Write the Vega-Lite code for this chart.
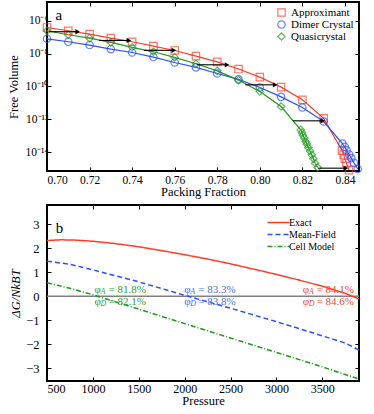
{
  "$schema": "https://vega.github.io/schema/vega-lite/v6.json",
  "padding": {"left": 6, "top": 0, "right": 0, "bottom": 0},
  "spacing": 4,
  "resolve": {"scale": {"color": "independent", "shape": "independent", "strokeDash": "independent"}, "legend": {"color": "independent", "shape": "independent", "strokeDash": "independent"}},
  "config": {
    "font": "Liberation Serif",
    "view": {"stroke": "black", "strokeWidth": 2},
    "axis": {"grid": false, "domain": false, "tickColor": "black", "tickSize": -4, "labelColor": "black", "titleColor": "black", "labelFont": "Liberation Serif", "titleFont": "Liberation Serif", "titleFontWeight": "normal", "labelFontSize": 11.5, "titleFontSize": 12.5},
    "legend": {"labelFont": "Liberation Serif", "labelColor": "black"}
  },
  "datasets": {
    "free": [
      {"series": "Approximant", "pf": 0.70, "fv": 3.89e-7},
      {"series": "Approximant", "pf": 0.71, "fv": 2.45e-7},
      {"series": "Approximant", "pf": 0.72, "fv": 1.55e-7},
      {"series": "Approximant", "pf": 0.73, "fv": 8.7e-8},
      {"series": "Approximant", "pf": 0.74, "fv": 5.25e-8},
      {"series": "Approximant", "pf": 0.75, "fv": 2.88e-8},
      {"series": "Approximant", "pf": 0.76, "fv": 1.55e-8},
      {"series": "Approximant", "pf": 0.77, "fv": 7.08e-9},
      {"series": "Approximant", "pf": 0.78, "fv": 3.16e-9},
      {"series": "Approximant", "pf": 0.79, "fv": 1.15e-9},
      {"series": "Approximant", "pf": 0.80, "fv": 3.72e-10},
      {"series": "Approximant", "pf": 0.81, "fv": 9.12e-11},
      {"series": "Approximant", "pf": 0.82, "fv": 1.55e-11},
      {"series": "Approximant", "pf": 0.83, "fv": 1.15e-12},
      {"series": "Approximant", "pf": 0.8386, "fv": 1.26e-14},
      {"series": "Approximant", "pf": 0.8394, "fv": 7.24e-15},
      {"series": "Approximant", "pf": 0.8399, "fv": 4.07e-15},
      {"series": "Approximant", "pf": 0.8407, "fv": 2.14e-15},
      {"series": "Approximant", "pf": 0.8419, "fv": 8.1e-16},
      {"series": "Dimer Crystal", "pf": 0.70, "fv": 7.94e-8},
      {"series": "Dimer Crystal", "pf": 0.71, "fv": 5.25e-8},
      {"series": "Dimer Crystal", "pf": 0.72, "fv": 3.31e-8},
      {"series": "Dimer Crystal", "pf": 0.73, "fv": 1.86e-8},
      {"series": "Dimer Crystal", "pf": 0.74, "fv": 1.17e-8},
      {"series": "Dimer Crystal", "pf": 0.75, "fv": 6.17e-9},
      {"series": "Dimer Crystal", "pf": 0.76, "fv": 2.88e-9},
      {"series": "Dimer Crystal", "pf": 0.77, "fv": 1.45e-9},
      {"series": "Dimer Crystal", "pf": 0.78, "fv": 6.17e-10},
      {"series": "Dimer Crystal", "pf": 0.79, "fv": 2.69e-10},
      {"series": "Dimer Crystal", "pf": 0.80, "fv": 8.71e-11},
      {"series": "Dimer Crystal", "pf": 0.81, "fv": 2.34e-11},
      {"series": "Dimer Crystal", "pf": 0.82, "fv": 5.25e-12},
      {"series": "Dimer Crystal", "pf": 0.83, "fv": 7.4e-13},
      {"series": "Dimer Crystal", "pf": 0.8388, "fv": 3.39e-14},
      {"series": "Dimer Crystal", "pf": 0.8399, "fv": 2.14e-14},
      {"series": "Dimer Crystal", "pf": 0.8408, "fv": 1.29e-14},
      {"series": "Dimer Crystal", "pf": 0.8420, "fv": 7.24e-15},
      {"series": "Dimer Crystal", "pf": 0.8430, "fv": 4.37e-15},
      {"series": "Dimer Crystal", "pf": 0.8442, "fv": 2.29e-15},
      {"series": "Dimer Crystal", "pf": 0.8460, "fv": 9.55e-16},
      {"series": "Quasicrystal", "pf": 0.70, "fv": 2.45e-7},
      {"series": "Quasicrystal", "pf": 0.71, "fv": 1.41e-7},
      {"series": "Quasicrystal", "pf": 0.72, "fv": 8.71e-8},
      {"series": "Quasicrystal", "pf": 0.73, "fv": 4.79e-8},
      {"series": "Quasicrystal", "pf": 0.74, "fv": 2.40e-8},
      {"series": "Quasicrystal", "pf": 0.75, "fv": 1.29e-8},
      {"series": "Quasicrystal", "pf": 0.76, "fv": 5.89e-9},
      {"series": "Quasicrystal", "pf": 0.77, "fv": 2.40e-9},
      {"series": "Quasicrystal", "pf": 0.78, "fv": 8.91e-10},
      {"series": "Quasicrystal", "pf": 0.79, "fv": 2.45e-10},
      {"series": "Quasicrystal", "pf": 0.80, "fv": 5.01e-11},
      {"series": "Quasicrystal", "pf": 0.81, "fv": 6.03e-12},
      {"series": "Quasicrystal", "pf": 0.8192, "fv": 2.29e-13},
      {"series": "Quasicrystal", "pf": 0.8198, "fv": 1.58e-13},
      {"series": "Quasicrystal", "pf": 0.8203, "fv": 1.05e-13},
      {"series": "Quasicrystal", "pf": 0.8209, "fv": 7.24e-14},
      {"series": "Quasicrystal", "pf": 0.8216, "fv": 4.47e-14},
      {"series": "Quasicrystal", "pf": 0.8221, "fv": 3.09e-14},
      {"series": "Quasicrystal", "pf": 0.8228, "fv": 1.95e-14},
      {"series": "Quasicrystal", "pf": 0.8236, "fv": 1.20e-14},
      {"series": "Quasicrystal", "pf": 0.8244, "fv": 6.92e-15},
      {"series": "Quasicrystal", "pf": 0.8252, "fv": 3.98e-15},
      {"series": "Quasicrystal", "pf": 0.8260, "fv": 2.14e-15},
      {"series": "Quasicrystal", "pf": 0.8272, "fv": 1.17e-15}
    ],
    "arrows": [
      {"x1": 0.7011, "x2": 0.7144, "fv": 2.14e-7},
      {"x1": 0.7245, "x2": 0.7385, "fv": 6.31e-8},
      {"x1": 0.7456, "x2": 0.7596, "fv": 1.58e-8},
      {"x1": 0.7706, "x2": 0.7846, "fv": 2.09e-9},
      {"x1": 0.7932, "x2": 0.8072, "fv": 1.26e-10},
      {"x1": 0.8155, "x2": 0.8296, "fv": 8.13e-13},
      {"x1": 0.8273, "x2": 0.8404, "fv": 1.07e-15}
    ],
    "dg": [
      {"series": "Exact", "p": 500, "dg": 2.32},
      {"series": "Exact", "p": 650, "dg": 2.35},
      {"series": "Exact", "p": 800, "dg": 2.34},
      {"series": "Exact", "p": 1000, "dg": 2.29},
      {"series": "Exact", "p": 1250, "dg": 2.19},
      {"series": "Exact", "p": 1500, "dg": 2.06},
      {"series": "Exact", "p": 1750, "dg": 1.90},
      {"series": "Exact", "p": 2000, "dg": 1.73},
      {"series": "Exact", "p": 2250, "dg": 1.55},
      {"series": "Exact", "p": 2500, "dg": 1.35},
      {"series": "Exact", "p": 2750, "dg": 1.13},
      {"series": "Exact", "p": 3000, "dg": 0.91},
      {"series": "Exact", "p": 3250, "dg": 0.67},
      {"series": "Exact", "p": 3500, "dg": 0.42},
      {"series": "Exact", "p": 3750, "dg": 0.12},
      {"series": "Exact", "p": 3900, "dg": -0.11},
      {"series": "Mean-Field", "p": 500, "dg": 1.46},
      {"series": "Mean-Field", "p": 750, "dg": 1.33},
      {"series": "Mean-Field", "p": 1000, "dg": 1.10},
      {"series": "Mean-Field", "p": 1250, "dg": 0.85},
      {"series": "Mean-Field", "p": 1500, "dg": 0.60},
      {"series": "Mean-Field", "p": 1750, "dg": 0.32},
      {"series": "Mean-Field", "p": 2000, "dg": 0.04},
      {"series": "Mean-Field", "p": 2250, "dg": -0.23},
      {"series": "Mean-Field", "p": 2500, "dg": -0.50},
      {"series": "Mean-Field", "p": 2750, "dg": -0.78},
      {"series": "Mean-Field", "p": 3000, "dg": -1.06},
      {"series": "Mean-Field", "p": 3250, "dg": -1.35},
      {"series": "Mean-Field", "p": 3500, "dg": -1.65},
      {"series": "Mean-Field", "p": 3750, "dg": -1.95},
      {"series": "Mean-Field", "p": 3900, "dg": -2.24},
      {"series": "Cell Model", "p": 500, "dg": 0.56},
      {"series": "Cell Model", "p": 750, "dg": 0.33},
      {"series": "Cell Model", "p": 1000, "dg": 0.06},
      {"series": "Cell Model", "p": 1250, "dg": -0.24},
      {"series": "Cell Model", "p": 1500, "dg": -0.54},
      {"series": "Cell Model", "p": 1750, "dg": -0.84},
      {"series": "Cell Model", "p": 2000, "dg": -1.14},
      {"series": "Cell Model", "p": 2250, "dg": -1.44},
      {"series": "Cell Model", "p": 2500, "dg": -1.74},
      {"series": "Cell Model", "p": 2750, "dg": -2.04},
      {"series": "Cell Model", "p": 3000, "dg": -2.34},
      {"series": "Cell Model", "p": 3250, "dg": -2.64},
      {"series": "Cell Model", "p": 3500, "dg": -2.94},
      {"series": "Cell Model", "p": 3750, "dg": -3.26},
      {"series": "Cell Model", "p": 3900, "dg": -3.45}
    ],
    "ann": [
      {"series": "Cell Model", "p": 1017, "dg": 0.25, "sub": "A", "val": "= 81.8%"},
      {"series": "Cell Model", "p": 1017, "dg": -0.25, "sub": "D", "val": "= 82.1%"},
      {"series": "Mean-Field", "p": 1997, "dg": 0.25, "sub": "A", "val": "= 83.3%"},
      {"series": "Mean-Field", "p": 1997, "dg": -0.25, "sub": "D", "val": "= 83.8%"},
      {"series": "Exact", "p": 3286, "dg": 0.25, "sub": "A", "val": "= 84.1%"},
      {"series": "Exact", "p": 3286, "dg": -0.25, "sub": "D", "val": "= 84.6%"}
    ]
  },
  "vconcat": [
    {
      "width": 312,
      "height": 169,
      "resolve": {"axis": {"x": "independent", "y": "independent"}},
      "layer": [
        {
          "data": {"name": "free"},
          "mark": {"type": "line", "strokeWidth": 1.2, "clip": false},
          "encoding": {
            "x": {"field": "pf", "type": "quantitative", "scale": {"domain": [0.70, 0.8466], "nice": false, "zero": false},
              "axis": {"values": [0.70, 0.72, 0.74, 0.76, 0.78, 0.80, 0.82, 0.84], "format": ".2f", "title": "Packing Fraction", "labelPadding": 7, "titlePadding": 0}},
            "y": {"field": "fv", "type": "quantitative", "scale": {"type": "log", "domain": [7.2e-16, 1.38e-5], "nice": false},
              "axis": {"values": [1e-14, 1e-12, 1e-10, 1e-8, 1e-6], "title": "Free Volume", "labelPadding": 3, "titlePadding": 5,
                "labelExpr": "'10' + (datum.value < 1e-13 ? '⁻¹⁴' : datum.value < 1e-11 ? '⁻¹²' : datum.value < 1e-9 ? '⁻¹⁰' : datum.value < 1e-7 ? '⁻⁸' : '⁻⁶')"}},
            "color": {"field": "series", "type": "nominal", "scale": {"domain": ["Approximant", "Dimer Crystal", "Quasicrystal"], "range": ["#ff3b2a", "#2b50f5", "#1f9a1f"]},
              "legend": {"orient": "top-right", "offset": 5, "title": null, "labelFontSize": 11, "padding": 0, "rowPadding": -2, "symbolStrokeWidth": 1.2, "symbolSize": 55}}
          }
        },
        {
          "data": {"name": "free"},
          "mark": {"type": "point", "filled": false, "strokeWidth": 1.2, "size": 55, "clip": false},
          "encoding": {
            "x": {"field": "pf", "type": "quantitative", "axis": null},
            "y": {"field": "fv", "type": "quantitative", "axis": null},
            "color": {"field": "series", "type": "nominal",
              "legend": {"orient": "top-right", "offset": 5, "title": null, "labelFontSize": 11, "padding": 0, "rowPadding": -2, "symbolStrokeWidth": 1.2, "symbolSize": 55}},
            "shape": {"field": "series", "type": "nominal", "scale": {"domain": ["Approximant", "Dimer Crystal", "Quasicrystal"], "range": ["square", "circle", "diamond"]},
              "legend": {"orient": "top-right", "offset": 5, "title": null, "labelFontSize": 11, "padding": 0, "rowPadding": -2, "symbolStrokeWidth": 1.2, "symbolSize": 55}}
          }
        },
        {
          "data": {"name": "arrows"},
          "mark": {"type": "rule", "color": "black", "strokeWidth": 1.1},
          "encoding": {
            "x": {"field": "x1", "type": "quantitative", "axis": {"orient": "top", "values": [0.70, 0.72, 0.74, 0.76, 0.78, 0.80, 0.82, 0.84], "labels": false, "title": null}},
            "x2": {"field": "x2"},
            "y": {"field": "fv", "type": "quantitative", "axis": {"orient": "right", "values": [1e-14, 1e-12, 1e-10, 1e-8, 1e-6], "labels": false, "title": null}}
          }
        },
        {
          "data": {"name": "arrows"},
          "mark": {"type": "point", "shape": "triangle-right", "filled": true, "color": "black", "size": 28, "opacity": 1},
          "encoding": {
            "x": {"field": "x2", "type": "quantitative", "axis": null},
            "y": {"field": "fv", "type": "quantitative", "axis": null}
          }
        },
        {
          "data": {"values": [{"label": "a", "pf": 0.7055, "fv": 2.2e-6}]},
          "mark": {"type": "text", "fontSize": 15, "font": "Liberation Serif", "color": "black"},
          "encoding": {
            "x": {"field": "pf", "type": "quantitative", "axis": null},
            "y": {"field": "fv", "type": "quantitative", "axis": null},
            "text": {"field": "label"}
          }
        }
      ]
    },
    {
      "width": 312,
      "height": 176,
      "resolve": {"axis": {"x": "independent", "y": "independent"}},
      "layer": [
        {
          "data": {"values": [{"zero": 0}]},
          "mark": {"type": "rule", "color": "#808080", "strokeWidth": 1.5},
          "encoding": {"y": {"field": "zero", "type": "quantitative", "axis": null}}
        },
        {
          "data": {"name": "dg"},
          "mark": {"type": "line", "strokeWidth": 1.5, "clip": true},
          "encoding": {
            "x": {"field": "p", "type": "quantitative", "scale": {"domain": [500, 3900], "nice": false, "zero": false},
              "axis": {"values": [500, 1000, 1500, 2000, 2500, 3000, 3500], "format": "d", "title": "Pressure", "labelFontSize": 12, "labelPadding": 6, "titlePadding": 0}},
            "y": {"field": "dg", "type": "quantitative", "scale": {"domain": [-3.53, 3.8], "nice": false, "zero": false},
              "axis": {"values": [-3, -2, -1, 0, 1, 2, 3], "title": "ΔG/NkBT", "titleFontStyle": "italic", "labelFontSize": 12.5, "labelPadding": 12, "titlePadding": 3}},
            "color": {"field": "series", "type": "nominal", "scale": {"domain": ["Exact", "Mean-Field", "Cell Model"], "range": ["#ff3b2a", "#2b50f5", "#1f9a1f"]},
              "legend": {"orient": "none", "legendX": 225, "legendY": 11, "title": null, "labelFontSize": 10, "padding": 0, "rowPadding": 0, "symbolStrokeWidth": 1.5, "symbolSize": 121, "symbolType": "M-2,0L2,0"}},
            "strokeDash": {"field": "series", "type": "nominal", "scale": {"domain": ["Exact", "Mean-Field", "Cell Model"], "range": [[1, 0], [5, 3], [5, 2, 1, 2]]},
              "legend": {"orient": "none", "legendX": 225, "legendY": 11, "title": null, "labelFontSize": 10, "padding": 0, "rowPadding": 0, "symbolStrokeWidth": 1.5, "symbolSize": 121, "symbolType": "M-2,0L2,0"}}
          }
        },
        {
          "data": {"values": [{"p": 500, "dg": 0}]},
          "mark": {"type": "point", "opacity": 0},
          "encoding": {
            "x": {"field": "p", "type": "quantitative", "axis": {"orient": "top", "values": [500, 1000, 1500, 2000, 2500, 3000, 3500], "labels": false, "title": null}},
            "y": {"field": "dg", "type": "quantitative", "axis": {"orient": "right", "values": [-3, -2, -1, 0, 1, 2, 3], "labels": false, "title": null}}
          }
        },
        {
          "data": {"name": "ann"},
          "mark": {"type": "text", "align": "left", "baseline": "middle", "fontSize": 11, "font": "Liberation Serif"},
          "encoding": {
            "x": {"field": "p", "type": "quantitative", "axis": null},
            "y": {"field": "dg", "type": "quantitative", "axis": null},
            "text": {"value": "φ"},
            "stroke": {"value": null},
            "fill": {"field": "series", "type": "nominal", "scale": {"domain": ["Exact", "Mean-Field", "Cell Model"], "range": ["#f04a36", "#4a6ee8", "#2f9a2f"]}, "legend": null}
          }
        },
        {
          "data": {"name": "ann"},
          "mark": {"type": "text", "align": "left", "baseline": "middle", "fontSize": 8, "fontStyle": "italic", "font": "Liberation Serif", "dx": 6, "dy": 2},
          "encoding": {
            "x": {"field": "p", "type": "quantitative", "axis": null},
            "y": {"field": "dg", "type": "quantitative", "axis": null},
            "text": {"field": "sub"},
            "fill": {"field": "series", "type": "nominal", "legend": null}
          }
        },
        {
          "data": {"name": "ann"},
          "mark": {"type": "text", "align": "left", "baseline": "middle", "fontSize": 11, "font": "Liberation Serif", "dx": 14},
          "encoding": {
            "x": {"field": "p", "type": "quantitative", "axis": null},
            "y": {"field": "dg", "type": "quantitative", "axis": null},
            "text": {"field": "val"},
            "fill": {"field": "series", "type": "nominal", "legend": null}
          }
        },
        {
          "data": {"values": [{"label": "b", "p": 635, "dg": 2.85}]},
          "mark": {"type": "text", "fontSize": 15, "font": "Liberation Serif", "color": "black"},
          "encoding": {
            "x": {"field": "p", "type": "quantitative", "axis": null},
            "y": {"field": "dg", "type": "quantitative", "axis": null},
            "text": {"field": "label"}
          }
        }
      ]
    }
  ]
}
